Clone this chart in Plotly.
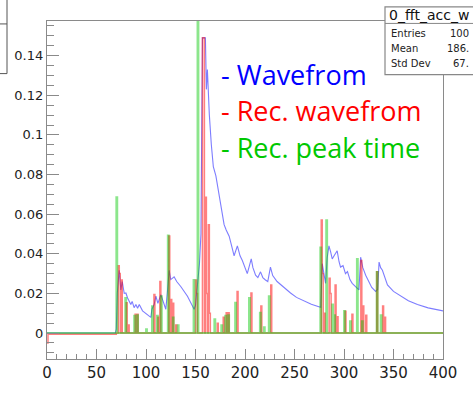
import plotly.graph_objects as go

# ---------------- data ----------------
blue_x = [0, 69, 70, 71, 72.9, 74.6, 76, 78, 79.7, 81.4, 84.7, 86, 88, 89.8, 91.5, 93.2, 96.5,
          101.5, 104.9, 106, 108.2, 110, 112, 115, 117, 120, 121.5, 123.4, 125, 128.4, 131, 135.1,
          141.9, 148.6, 150, 152, 154, 155.5, 157, 160, 161, 162, 163, 164, 166, 168, 170.6, 173.9,
          176, 178.9, 181, 184, 187, 189, 192.3, 195, 197.3, 200, 202.3, 206.3, 208, 210.7, 213,
          215.7, 218, 220.7, 223, 225.7, 228, 232.4, 240, 246, 252, 259.5, 267, 274.6, 276.5, 278,
          279.5, 281.4, 283, 284.8, 286.5, 288.1, 290, 293.1, 295, 296.5, 299, 301.5, 303.5, 306,
          308.3, 312, 315.1, 316.8, 319, 321.9, 325, 328, 332, 334, 335.4, 337, 338.8, 341, 343.9,
          350, 357.4, 365, 374.2, 385, 400]
blue_y = [0, 0, 0.002, 0.02, 0.0317, 0.0218, 0.026, 0.02, 0.0202, 0.0177, 0.0144, 0.016, 0.0128,
          0.0144, 0.0125, 0.0144, 0.0112, 0.0095, 0.0079, 0.012, 0.0144, 0.0186, 0.015, 0.0194,
          0.016, 0.012, 0.02, 0.0317, 0.027, 0.0284, 0.026, 0.0235, 0.0186, 0.012, 0.014, 0.025,
          0.035, 0.05, 0.149, 0.149, 0.123, 0.133, 0.12, 0.11, 0.095, 0.084, 0.0793, 0.0695, 0.062,
          0.0547, 0.052, 0.0489, 0.043, 0.039, 0.044, 0.039, 0.0366, 0.033, 0.030, 0.0374, 0.033,
          0.0292, 0.028, 0.0309, 0.028, 0.0268, 0.026, 0.0333, 0.029, 0.026, 0.0225, 0.0202, 0.018,
          0.0161, 0.0145, 0.0133, 0.013, 0.035, 0.031, 0.0251, 0.038, 0.044, 0.041, 0.0374, 0.039,
          0.0415, 0.036, 0.0333, 0.034, 0.030, 0.031, 0.027, 0.0251, 0.023, 0.0218, 0.0383, 0.033,
          0.0292, 0.026, 0.023, 0.021, 0.022, 0.0358, 0.033, 0.0317, 0.028, 0.0243, 0.021, 0.0186,
          0.0163, 0.0144, 0.0127, 0.0112]

# reconstructed waveform: bin index -> content
red_bins = [0, 72, 73, 75, 80, 82, 89, 91, 108, 112, 114, 123, 125, 127, 130, 150, 151, 157, 158,
            160, 161, 163, 164, 172, 178, 181, 183, 192, 206, 216, 226, 277, 278, 280, 285, 286,
            291, 293, 301, 308, 317, 319, 322, 333, 339, 341]
red_vals = [-0.005, 0.034, 0.030, 0.0268, 0.0153, 0.004, 0.0095, 0.0095, 0.0194, 0.008, 0.026,
            0.049, 0.0169, 0.015, 0.004, 0.0268, 0.02, 0.149, 0.149, 0.0686, 0.02, 0.0547, 0.01,
            0.005, 0.008, 0.0103, 0.0103, 0.021, 0.0202, 0.0136, 0.0243, 0.0571, 0.03, 0.01,
            0.0276, 0.02, 0.0243, 0.0082, 0.011, 0.0095, 0.0366, 0.0136, 0.009, 0.031, 0.0136, 0.008]
red_pre_level = -0.0006   # level of the reconstructed waveform before the first pulse
red_pre_end = 70

# reconstructed peak times: bin index -> content
green_bins = [70, 79, 88, 91, 100, 106, 111, 115, 122, 127, 132, 148, 152, 169, 176, 180, 183, 190,
              204, 215, 219, 224, 276, 282, 288, 290, 300, 306, 313, 318, 333, 337]
green_vals = [0.0686, 0.0177, 0.0087, 0.009, 0.002, 0.0136, 0.0087, 0.0186, 0.0493, 0.0079, 0.004,
              0.0268, 0.17, 0.007, 0.004, 0.0087, 0.009, 0.0153, 0.0177, 0.0103, 0.003, 0.0186,
              0.0432, 0.057, 0.0144, 0.009, 0.0112, 0.006, 0.0374, 0.006, 0.0309, 0.009]

n_bins = 400
x_min, x_max = 0, 400
y_min, y_max = -0.0131, 0.1575
x_tick_vals = [0, 50, 100, 150, 200, 250, 300, 350, 400]
y_tick_vals = [0, 0.02, 0.04, 0.06, 0.08, 0.1, 0.12, 0.14]
y_tick_text = ["0", "0.02", "0.04", "0.06", "0.08", "0.1", "0.12", "0.14"]

legend_lines = ["- Wavefrom", "- Rec. wavefrom", "- Rec. peak time"]
legend_colors = ["#0000ff", "#ff0000", "#00c800"]

stats_title = "0_fft_acc_w"
stats_names = ["Entries", "Mean", "Std Dev"]
stats_values = ["100", "186.", "67."]

# ---------------- build histograms ----------------
red_hist = [red_pre_level if i < red_pre_end else 0.0 for i in range(n_bins)]
for b, v in zip(red_bins, red_vals):
    red_hist[b] = v
green_hist = [0.0] * n_bins
for b, v in zip(green_bins, green_vals):
    green_hist[b] = v
edges = list(range(n_bins + 1))

fig = go.Figure()
fig.add_trace(go.Scatter(x=blue_x, y=blue_y, mode="lines",
                         line=dict(color="rgba(70,70,255,0.7)", width=1.1),
                         showlegend=False, hoverinfo="skip"))
fig.add_trace(go.Scatter(x=edges, y=red_hist + [red_hist[-1]], mode="lines",
                         line=dict(color="rgba(255,0,0,0.5)", width=1.5, shape="hv"),
                         showlegend=False, hoverinfo="skip"))
fig.add_trace(go.Scatter(x=edges, y=green_hist + [green_hist[-1]], mode="lines",
                         line=dict(color="rgba(0,200,0,0.45)", width=1.9, shape="hv"),
                         showlegend=False, hoverinfo="skip"))

W, H = 473, 394
L, R, T, B = 47, 30, 21, 26
PW, PH = W - L - R, H - T - B


def px(xp):
    return (xp - L) / PW


def py(yp):
    return (H - B - yp) / PH


axis_col = "#8a8a8a"
fig.update_layout(
    width=W, height=H,
    margin=dict(l=L, r=R, t=T, b=B, pad=0),
    paper_bgcolor="white", plot_bgcolor="white",
    showlegend=False,
    xaxis=dict(range=[x_min, x_max], showgrid=False, zeroline=False,
               showline=True, mirror=True, linecolor=axis_col, linewidth=1.3,
               ticks="inside", ticklen=10, tickcolor=axis_col, tickwidth=1,
               tickvals=x_tick_vals,
               tickfont=dict(family="DejaVu Sans", size=15, color="#222"),
               minor=dict(ticks="inside", ticklen=5, dtick=10, tickcolor=axis_col)),
    yaxis=dict(range=[y_min, y_max], showgrid=False, zeroline=False,
               showline=True, mirror=True, linecolor=axis_col, linewidth=1.3,
               ticks="inside", ticklen=12, tickcolor=axis_col, tickwidth=1,
               tickvals=y_tick_vals, ticktext=y_tick_text,
               tickfont=dict(family="DejaVu Sans", size=13, color="#222"),
               minor=dict(ticks="inside", ticklen=7, dtick=0.005, tickcolor=axis_col)),
)

# legend text
legend_mid_px = [76, 113, 151]
for txt, col, ym in zip(legend_lines, legend_colors, legend_mid_px):
    fig.add_annotation(xref="paper", yref="paper", x=px(219), y=py(ym), text=txt,
                       showarrow=False, xanchor="left", yanchor="middle",
                       font=dict(family="Open Sans", size=27, color=col))

# stats box (top right, clipped by window)
fig.add_shape(type="rect", xref="paper", yref="paper",
              x0=px(385), x1=px(490), y0=py(76), y1=py(6.5),
              line=dict(color="#888", width=1.2), fillcolor="white", layer="above")
fig.add_shape(type="line", xref="paper", yref="paper",
              x0=px(385), x1=px(490), y0=py(23.5), y1=py(23.5),
              line=dict(color="#888", width=1), layer="above")
fig.add_annotation(xref="paper", yref="paper", x=px(387), y=py(15), text=stats_title,
                   showarrow=False, xanchor="left", yanchor="middle",
                   font=dict(family="DejaVu Sans", size=14, color="#111"))
for i, (nm, val) in enumerate(zip(stats_names, stats_values)):
    yc = 33.5 + i * 15.5
    fig.add_annotation(xref="paper", yref="paper", x=px(389), y=py(yc), text=nm,
                       showarrow=False, xanchor="left", yanchor="middle",
                       font=dict(family="DejaVu Sans", size=10, color="#222"))
    fig.add_annotation(xref="paper", yref="paper", x=px(471), y=py(yc), text=val,
                       showarrow=False, xanchor="right", yanchor="middle",
                       font=dict(family="DejaVu Sans", size=10, color="#222"))

# partially visible box at top left
fig.add_shape(type="rect", xref="paper", yref="paper",
              x0=px(-20), x1=px(7), y0=py(75), y1=py(-5),
              line=dict(color="#555", width=1), fillcolor="rgba(0,0,0,0)")
fig.add_shape(type="line", xref="paper", yref="paper",
              x0=px(-20), x1=px(7), y0=py(24), y1=py(24),
              line=dict(color="#555", width=1))

fig.write_html("out.html")
